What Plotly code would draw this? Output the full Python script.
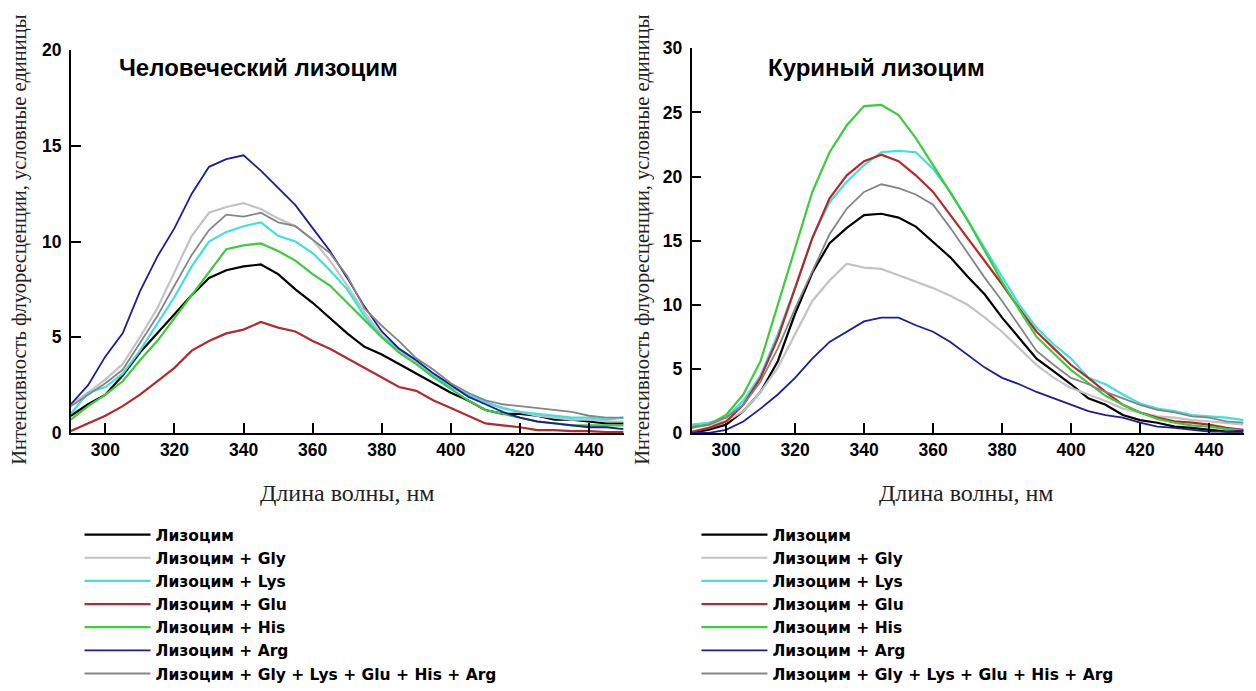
import plotly.graph_objects as go

# ---------------- data ----------------
wavelength = list(range(290, 451, 5))
x_ticks = [300, 320, 340, 360, 380, 400, 420, 440]

series_names = [
    "Лизоцим",
    "Лизоцим + Gly",
    "Лизоцим + Lys",
    "Лизоцим + Glu",
    "Лизоцим + His",
    "Лизоцим + Arg",
    "Лизоцим + Gly + Lys + Glu + His + Arg",
]

# Human lysozyme (left panel)
human_lys = [0.9, 1.5, 2.0, 3.0, 4.2, 5.2, 6.2, 7.2, 8.1, 8.5, 8.7, 8.8, 8.3, 7.5, 6.8, 6.0, 5.2,
             4.5, 4.1, 3.6, 3.1, 2.6, 2.1, 1.7, 1.2, 1.0, 1.0, 0.9, 0.7, 0.7, 0.6, 0.5, 0.5]
human_gly = [1.5, 2.1, 2.8, 3.6, 5.0, 6.5, 8.4, 10.3, 11.5, 11.8, 12.0, 11.7, 11.2, 10.8, 10.1, 9.0, 7.7,
             6.3, 5.1, 4.3, 3.7, 3.1, 2.5, 2.0, 1.6, 1.3, 1.1, 0.9, 0.8, 0.7, 0.7, 0.6, 0.6]
human_lysaa = [1.0, 2.1, 2.4, 3.1, 4.3, 5.7, 7.1, 8.7, 10.0, 10.5, 10.8, 11.0, 10.3, 10.0, 9.4, 8.5, 7.5,
               6.1, 5.0, 4.4, 3.8, 3.0, 2.4, 2.0, 1.6, 1.3, 1.1, 1.0, 0.9, 0.8, 0.8, 0.7, 0.8]
human_glu = [0.1, 0.5, 0.9, 1.4, 2.0, 2.7, 3.4, 4.3, 4.8, 5.2, 5.4, 5.8, 5.5, 5.3, 4.8, 4.4, 3.9,
             3.4, 2.9, 2.4, 2.2, 1.7, 1.3, 0.9, 0.5, 0.4, 0.3, 0.15, 0.15, 0.1, 0.1, 0.05, 0.05]
human_his = [0.7, 1.4, 2.0, 2.7, 3.8, 4.8, 6.0, 7.2, 8.4, 9.6, 9.8, 9.9, 9.5, 9.0, 8.3, 7.7, 6.8,
             5.9, 5.0, 4.2, 3.6, 2.9, 2.3, 1.7, 1.2, 1.0, 0.8, 0.6, 0.5, 0.4, 0.4, 0.4, 0.4]
human_arg = [1.5, 2.5, 4.0, 5.2, 7.4, 9.2, 10.7, 12.5, 13.9, 14.3, 14.5, 13.7, 12.8, 11.9, 10.7, 9.5, 8.1,
             6.6, 5.3, 4.4, 3.8, 3.1, 2.5, 1.9, 1.5, 1.1, 0.8, 0.6, 0.5, 0.4, 0.3, 0.3, 0.2]
human_mix = [1.4, 2.0, 2.6, 3.3, 4.7, 6.1, 7.7, 9.3, 10.6, 11.4, 11.3, 11.5, 11.0, 10.8, 10.1, 9.4, 8.2,
             6.5, 5.6, 4.8, 3.9, 3.3, 2.6, 2.1, 1.7, 1.5, 1.4, 1.3, 1.2, 1.1, 0.9, 0.8, 0.8]

# Chicken lysozyme (right panel)
hen_lys = [0.0, 0.25, 0.65, 1.7, 3.2, 5.6, 9.3, 12.5, 14.8, 16.0, 17.0, 17.1, 16.8, 16.1, 14.9, 13.7, 12.2,
           10.8, 9.0, 7.4, 5.8, 4.8, 3.8, 2.7, 2.2, 1.4, 1.0, 0.8, 0.5, 0.4, 0.25, 0.1, 0.1]
hen_gly = [0.4, 0.65, 0.9, 1.7, 3.2, 5.1, 7.7, 10.3, 11.9, 13.2, 12.9, 12.8, 12.3, 11.8, 11.3, 10.7, 10.0,
           9.0, 7.9, 6.6, 5.3, 4.3, 3.5, 3.0, 2.5, 1.9, 1.6, 1.3, 1.2, 1.0, 0.9, 0.8, 0.65]
hen_lysaa = [0.65, 0.8, 1.2, 2.5, 4.5, 7.7, 11.3, 15.2, 18.0, 19.6, 20.9, 21.9, 22.0, 21.9, 20.6, 18.8, 16.6,
             14.4, 12.1, 10.0, 8.2, 6.9, 5.8, 4.3, 3.8, 3.0, 2.3, 1.9, 1.7, 1.4, 1.3, 1.2, 1.0]
hen_glu = [0.1, 0.4, 0.9, 2.2, 4.3, 7.4, 11.3, 15.2, 18.3, 20.1, 21.2, 21.7, 21.2, 20.1, 18.8, 17.0, 15.2,
           13.4, 11.6, 9.7, 7.9, 6.6, 5.3, 4.3, 3.2, 2.2, 1.6, 1.2, 0.9, 0.8, 0.65, 0.4, 0.25]
hen_his = [0.5, 0.65, 1.4, 3.0, 5.6, 10.0, 14.4, 18.8, 21.9, 24.0, 25.5, 25.6, 24.8, 23.0, 20.9, 18.8, 16.6,
           14.2, 11.8, 9.6, 7.5, 6.2, 4.9, 3.9, 2.9, 2.2, 1.6, 1.1, 0.8, 0.6, 0.5, 0.3, 0.2]
hen_arg = [0.0, 0.0, 0.25, 0.9, 1.9, 3.0, 4.3, 5.8, 7.1, 7.9, 8.7, 9.0, 9.0, 8.4, 7.9, 7.1, 6.1,
           5.1, 4.3, 3.8, 3.2, 2.7, 2.2, 1.7, 1.4, 1.2, 0.8, 0.5, 0.4, 0.25, 0.1, 0.1, 0.2]
hen_mix = [0.4, 0.65, 1.2, 2.2, 4.0, 6.6, 9.7, 12.6, 15.5, 17.5, 18.8, 19.4, 19.1, 18.6, 17.8, 16.0, 14.0,
           12.1, 10.3, 8.4, 6.4, 5.3, 4.3, 3.8, 3.2, 2.7, 2.2, 1.8, 1.6, 1.3, 1.2, 0.9, 0.8]

human_series = [human_lys, human_gly, human_lysaa, human_glu, human_his, human_arg, human_mix]
hen_series = [hen_lys, hen_gly, hen_lysaa, hen_glu, hen_his, hen_arg, hen_mix]

colors = ["#000000", "#c3c3c3", "#3fe0e0", "#b8282a", "#3ccc3c", "#1c1c9c", "#858585"]
widths = [2.2, 2.2, 2.2, 2.2, 2.2, 1.8, 1.8]

# ---------------- figure ----------------
fig = go.Figure()

for i, (name, ys) in enumerate(zip(series_names, human_series)):
    fig.add_trace(go.Scatter(
        x=wavelength, y=ys, mode="lines", name=name,
        line=dict(color=colors[i], width=widths[i]),
        xaxis="x", yaxis="y", legend="legend", legendgroup="h%d" % i,
    ))
for i, (name, ys) in enumerate(zip(series_names, hen_series)):
    fig.add_trace(go.Scatter(
        x=wavelength, y=ys, mode="lines", name=name,
        line=dict(color=colors[i], width=widths[i]),
        xaxis="x2", yaxis="y2", legend="legend2", legendgroup="c%d" % i,
    ))

tick_font = dict(family="Liberation Sans, Arial, sans-serif", size=17.5, color="black", weight="bold")
axis_common = dict(
    showline=True, linecolor="black", linewidth=1.5,
    ticks="inside", ticklen=10, tickwidth=1.5, tickcolor="black",
    showgrid=False, zeroline=False, tickfont=tick_font, fixedrange=True,
    automargin=False,
)
xaxis_common = dict(range=[290, 450], tickvals=x_ticks, **axis_common)
yaxis_common = dict(ticklabelstandoff=4, **axis_common)

legend_common = dict(
    font=dict(family="DejaVu Sans, sans-serif", size=15.5, color="black", weight="bold"),
    bgcolor="rgba(0,0,0,0)", borderwidth=0, tracegroupgap=0,
    xanchor="left", yanchor="bottom", y=0.0, itemwidth=66, orientation="v",
)

fig.update_layout(
    template="none",
    width=1256, height=691,
    margin=dict(l=0, r=0, t=0, b=0, autoexpand=False),
    paper_bgcolor="white", plot_bgcolor="white",
    showlegend=True,
    xaxis=dict(domain=[0.0564, 0.4965], anchor="y", **xaxis_common),
    yaxis=dict(domain=[0.3734, 0.9276], range=[0, 20], tickvals=[0, 5, 10, 15, 20], anchor="x", **yaxis_common),
    xaxis2=dict(domain=[0.5506, 0.9901], anchor="y2", **xaxis_common),
    yaxis2=dict(domain=[0.3734, 0.930], range=[0, 30], tickvals=[0, 5, 10, 15, 20, 25, 30], anchor="x2", **yaxis_common),
    legend=dict(x=0.0633, **legend_common),
    legend2=dict(x=0.5545, **legend_common),
)

title_font = dict(family="Liberation Sans, Arial, sans-serif", size=24, color="black", weight="bold")
ytitle_font = dict(family="Liberation Serif, Times New Roman, serif", size=20.5, color="#222222")
xtitle_font = dict(family="Liberation Serif, Times New Roman, serif", size=24, color="#222222")

annotations = [
    dict(text="Человеческий лизоцим", x=0.2062, y=0.9016, font=title_font),
    dict(text="Куриный лизоцим", x=0.6982, y=0.9016, font=title_font),
    dict(text="Интенсивность флуоресценции, условные единицы", x=0.016, y=0.653, textangle=-90, font=ytitle_font),
    dict(text="Интенсивность флуоресценции, условные единицы", x=0.512, y=0.653, textangle=-90, font=ytitle_font),
    dict(text="Длина волны, нм", x=0.2763, y=0.2865, font=xtitle_font),
    dict(text="Длина волны, нм", x=0.7699, y=0.2865, font=xtitle_font),
]
for a in annotations:
    fig.add_annotation(xref="paper", yref="paper", showarrow=False, xanchor="center", yanchor="middle", **a)

fig.write_html("out.html", config={"displayModeBar": False})
